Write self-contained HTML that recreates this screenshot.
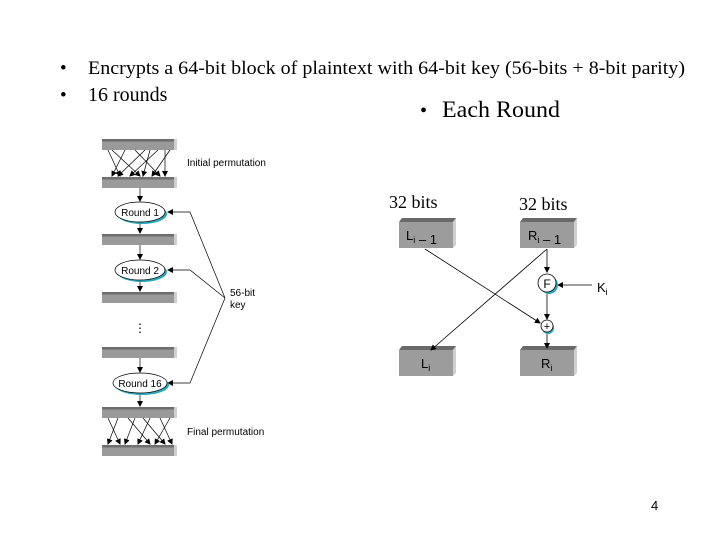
<!DOCTYPE html>
<html><head><meta charset="utf-8"><style>
html,body{margin:0;padding:0;background:#fff;}
svg{display:block;}
.t{font-family:"Liberation Serif",serif;fill:#000;}
.s{font-family:"Liberation Sans",sans-serif;fill:#000;}
</style></head><body>
<svg width="720" height="540" viewBox="0 0 720 540" xmlns="http://www.w3.org/2000/svg">
<defs>
<marker id="a" markerWidth="6" markerHeight="6" refX="5" refY="3" orient="auto" markerUnits="userSpaceOnUse"><path d="M0,0 L6,3 L0,6 z" fill="#000"/></marker>
<g id="bar"><rect x="102" y="0" width="75" height="11" fill="#9a9a9a"/><rect x="102" y="0" width="75" height="2.5" fill="#6e6e6e"/><rect x="174" y="0" width="3" height="11" fill="#cfcfcf"/></g>
<g id="bx"><polygon points="399,222 453,222 456,218 402,218" fill="#6a6a6a"/><rect x="399" y="222" width="54" height="26" fill="#9c9c9c"/><polygon points="453,222 456,218 456,245 453,248" fill="#d0d0d0"/></g>
</defs>
<text class="t" x="60" y="74" font-size="19">•</text>
<text class="t" x="88" y="74" font-size="19" textLength="597" lengthAdjust="spacingAndGlyphs">Encrypts a 64-bit block of plaintext with 64-bit key (56-bits + 8-bit parity)</text>
<text class="t" x="60" y="101" font-size="19">•</text>
<text class="t" x="88" y="101" font-size="20">16 rounds</text>
<text class="t" x="420" y="117" font-size="20">•</text>
<text class="t" x="442" y="117" font-size="23" textLength="118" lengthAdjust="spacingAndGlyphs">Each Round</text>

<!-- left diagram -->
<use href="#bar" y="139"/><use href="#bar" y="177"/><use href="#bar" y="234"/><use href="#bar" y="292"/><use href="#bar" y="347"/><use href="#bar" y="407"/><use href="#bar" y="445"/>
<g stroke="#000" stroke-width="0.7" marker-end="url(#a)">
<line x1="108" y1="150" x2="120" y2="176"/><line x1="112" y1="150" x2="140" y2="176"/><line x1="125" y1="150" x2="112" y2="176"/><line x1="135" y1="150" x2="160" y2="176"/><line x1="145" y1="150" x2="118" y2="176"/><line x1="150" y1="150" x2="143" y2="176"/><line x1="158" y1="150" x2="130" y2="176"/><line x1="165" y1="150" x2="165" y2="176"/><line x1="170" y1="150" x2="152" y2="176"/>
<line x1="108" y1="418" x2="120" y2="444"/><line x1="118" y1="418" x2="108" y2="444"/><line x1="128" y1="418" x2="150" y2="444"/><line x1="135" y1="418" x2="125" y2="444"/><line x1="143" y1="418" x2="165" y2="444"/><line x1="150" y1="418" x2="138" y2="444"/><line x1="160" y1="418" x2="172" y2="444"/><line x1="170" y1="418" x2="155" y2="444"/>
<line x1="140" y1="188" x2="140" y2="201"/><line x1="140" y1="222" x2="140" y2="233"/><line x1="140" y1="245" x2="140" y2="259"/><line x1="140" y1="280" x2="140" y2="291"/><line x1="140" y1="358" x2="140" y2="372"/><line x1="140" y1="393" x2="140" y2="406"/>
<polyline fill="none" points="225,298 190,212 168,212"/><polyline fill="none" points="225,298 190,270 168,270"/><polyline fill="none" points="225,298 190,383 168,383"/>
</g>
<text x="140" y="332" text-anchor="middle" class="s" font-size="12">⋮</text>
<g font-size="10">
<ellipse cx="142" cy="214" rx="25" ry="10" fill="#2aa6b8"/><ellipse cx="140" cy="212" rx="25" ry="10" fill="#fff" stroke="#000" stroke-width="0.7"/><text class="s" x="140" y="216" text-anchor="middle">Round 1</text>
<ellipse cx="142" cy="272" rx="25" ry="10" fill="#2aa6b8"/><ellipse cx="140" cy="270" rx="25" ry="10" fill="#fff" stroke="#000" stroke-width="0.7"/><text class="s" x="140" y="274" text-anchor="middle">Round 2</text>
<ellipse cx="142" cy="385" rx="27" ry="10" fill="#2aa6b8"/><ellipse cx="140" cy="383" rx="27" ry="10" fill="#fff" stroke="#000" stroke-width="0.7"/><text class="s" x="140" y="387" text-anchor="middle">Round 16</text>
<text class="s" x="187" y="166">Initial permutation</text>
<text class="s" x="230" y="296">56-bit</text><text class="s" x="230" y="308">key</text>
<text class="s" x="187" y="435">Final permutation</text>
</g>

<!-- right diagram -->
<text class="t" x="389" y="208" font-size="18">32 bits</text>
<text class="t" x="519" y="210" font-size="18">32 bits</text>
<use href="#bx"/><use href="#bx" x="121"/><use href="#bx" y="128"/><use href="#bx" x="121" y="128"/>
<g class="s" font-size="13" fill="#222">
<text x="406" y="240">L<tspan font-size="9" dy="3">i</tspan><tspan dy="1"> – 1</tspan></text>
<text x="528" y="240">R<tspan font-size="9" dy="3">i</tspan><tspan dy="1"> – 1</tspan></text>
<text x="421" y="368">L<tspan font-size="9" dy="3">i</tspan></text>
<text x="541" y="368">R<tspan font-size="9" dy="3">i</tspan></text>
<text x="597" y="292">K<tspan font-size="9" dy="3">i</tspan></text>
</g>
<g stroke="#000" stroke-width="0.8" fill="none" marker-end="url(#a)">
<line x1="547" y1="249" x2="547" y2="272"/><line x1="547" y1="294" x2="547" y2="319"/><line x1="547" y1="334" x2="547" y2="348"/>
<line x1="592" y1="285" x2="558" y2="285"/>
<line x1="425" y1="249" x2="540" y2="323"/>
<line x1="547" y1="249" x2="431" y2="350"/>
</g>
<circle cx="549" cy="285" r="9" fill="#2aa6b8"/><circle cx="547" cy="283" r="9" fill="#fff" stroke="#000" stroke-width="0.8"/>
<text class="s" x="547" y="288" font-size="12" text-anchor="middle">F</text>
<circle cx="548" cy="328" r="6" fill="#2aa6b8"/><circle cx="547" cy="326" r="6" fill="#fff" stroke="#000" stroke-width="0.8"/>
<text class="s" x="547" y="330" font-size="11" text-anchor="middle">+</text>

<text class="s" x="651" y="510" font-size="13">4</text>
</svg>
</body></html>
